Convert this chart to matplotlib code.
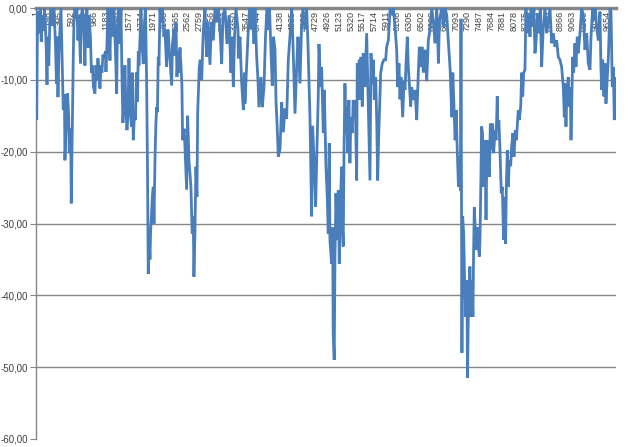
import numpy as np
import matplotlib
matplotlib.use("Agg")
import matplotlib.pyplot as plt
import matplotlib.transforms as mtransforms
from matplotlib.ticker import FuncFormatter

# drawdown series (index, value)
idx = [1, 13, 26, 43, 60, 74, 90, 107, 128, 144, 161, 175, 187, 200, 217, 234, 254, 279, 305, 330,
       347, 361, 372, 389, 406, 423, 440, 462, 482, 490, 519, 535, 553, 563, 587, 597, 621, 631, 642, 659,
       676, 693, 710, 727, 752, 769, 786, 811, 828, 845, 862, 879, 896, 921, 938, 955, 972, 997, 1014, 1031,
       1048, 1082, 1099, 1115, 1132, 1149, 1175, 1183, 1200, 1217, 1234, 1251, 1268, 1293, 1318, 1344, 1364, 1377, 1394, 1420,
       1437, 1453, 1470, 1487, 1504, 1521, 1538, 1555, 1572, 1589, 1614, 1628, 1645, 1665, 1682, 1699, 1716, 1730, 1741, 1758,
       1775, 1792, 1814, 1834, 1851, 1871, 1885, 1898, 1910, 1927, 1938, 1952, 1969, 1983, 1995, 2012, 2028, 2040, 2053, 2067,
       2079, 2096, 2113, 2138, 2163, 2180, 2208, 2231, 2256, 2294, 2307, 2332, 2349, 2366, 2383, 2405, 2417, 2434, 2451, 2467,
       2479, 2506, 2530, 2547, 2564, 2586, 2603, 2619, 2641, 2658, 2670, 2687, 2704, 2721, 2733, 2743, 2760, 2777, 2801, 2828,
       2857, 2885, 2907, 2941, 2966, 2997, 3026, 3059, 3085, 3110, 3139, 3161, 3195, 3228, 3262, 3296, 3313, 3336, 3356, 3381,
       3415, 3420, 3448, 3477, 3505, 3525, 3532, 3561, 3583, 3609, 3634, 3659, 3685, 3702, 3730, 3752, 3769, 3803, 3825, 3854,
       3879, 3905, 3927, 3947, 3972, 3994, 4014, 4040, 4057, 4074, 4096, 4125, 4153, 4180, 4209, 4237, 4265, 4293, 4322, 4344,
       4378, 4406, 4428, 4462, 4487, 4513, 4547, 4575, 4597, 4631, 4659, 4676, 4703, 4727, 4744, 4771, 4783, 4811, 4828, 4856,
       4873, 4884, 4901, 4923, 4940, 4957, 4968, 4997, 5014, 5024, 5041, 5053, 5070, 5092, 5109, 5126, 5149, 5166, 5183, 5193,
       5205, 5222, 5239, 5250, 5267, 5289, 5306, 5323, 5345, 5362, 5379, 5396, 5420, 5430, 5447, 5464, 5476, 5493, 5515, 5531,
       5560, 5589, 5606, 5633, 5645, 5662, 5684, 5701, 5718, 5741, 5758, 5775, 5792, 5814, 5826, 5853, 5882, 5910, 5927, 5955,
       5972, 5984, 6017, 6039, 6068, 6096, 6113, 6135, 6152, 6169, 6198, 6220, 6237, 6254, 6276, 6293, 6310, 6333, 6350, 6378,
       6406, 6435, 6462, 6479, 6508, 6524, 6547, 6576, 6604, 6631, 6660, 6689, 6717, 6745, 6774, 6802, 6819, 6859, 6887, 6914,
       6943, 6971, 7000, 7028, 7045, 7067, 7084, 7101, 7118, 7140, 7157, 7174, 7183, 7199, 7211, 7228, 7245, 7266, 7283, 7293,
       7310, 7334, 7351, 7368, 7385, 7395, 7408, 7425, 7442, 7464, 7481, 7493, 7504, 7521, 7531, 7548, 7565, 7589, 7606, 7623,
       7646, 7662, 7679, 7701, 7718, 7735, 7759, 7776, 7796, 7806, 7823, 7840, 7864, 7881, 7903, 7920, 7937, 7949, 7966, 7983,
       8000, 8022, 8039, 8061, 8078, 8102, 8119, 8151, 8168, 8192, 8209, 8226, 8242, 8264, 8281, 8293, 8310, 8332, 8349, 8366,
       8394, 8416, 8433, 8450, 8479, 8501, 8523, 8546, 8574, 8602, 8631, 8659, 8687, 8715, 8743, 8771, 8800, 8827, 8856, 8884,
       8912, 8929, 8940, 8957, 8974, 8996, 9013, 9030, 9042, 9053, 9070, 9087, 9109, 9126, 9148, 9165, 9194, 9222, 9250, 9278,
       9307, 9334, 9363, 9380, 9408, 9430, 9452, 9476, 9503, 9532, 9548, 9560, 9577, 9599, 9616, 9633, 9650, 9672, 9701, 9718,
       9740, 9757, 9774, 9785, 9802]
dd = [0, -15.6, -2, -0.5, -3.5, 0, -4.7, -1, -3.2, 0, -2.5, -6, -10.7, -4, -8, -2, 0, -2.5, 0, -5,
      -10.5, -4, -12.4, -6, -3, 0, -6, -14.2, -12, -21.2, -14.4, -11.9, -15, -20.2, -16.8, -27.2, -12.8, -6.8, -2, 0,
      -1.5, 0, -4.5, -1, -7.7, -1, 0, -3, -8, -1, 0, -5.5, -1, -4, -9, -8, -11, -11.9, -8, -10,
      -7, -11.2, -8, -9, -6.5, -7, -6, -8.9, -5, 0, -3, -7.3, 0, -4, 0, -6, -11.9, -3, 0, -5,
      0, -9, -16, -12.8, -8, -14, -17, -15, -7, -13.6, -16.5, -9, -18.4, -14.7, -15.6, -9, -13, -6, -8, -4.5,
      0, -5, -7.8, -2, 0, -10.5, -22, -37, -31, -35, -31, -29, -26, -24.9, -30, -21, -16, -13.8, -14.5, -6.8,
      -8, 0, -2, 0, -4, -3, -8.2, -3, -6, -10.8, -5, -3, -6.6, -2, -9.6, -6, -9, -5.5, -8, -10.8,
      -18.4, -16.8, -22, -25.3, -15, -21.2, -23, -24.9, -31.4, -29, -37.4, -31.3, -22.1, -26.3, -14.7, -12.3, -8.2, -7.2, -10, -3.1,
      0, -6.8, -2, -7.9, -2, -4.5, 0, -2, 0, -3, -7.8, -1, 0, -5, -1, -9, -4, -11, -4, 0,
      -3, -7, -4, -10.5, -14.2, -9, -13.3, -8, -4, 0, -3, 0, -5, 0, -6.8, -10, -13.8, -9.6, -13.8, -11,
      -4, 0, -3, 0, -6, -10.8, -4, -5.7, -13, -16, -20.7, -19.6, -13.1, -17.3, -14, -15.4, -7.2, -3.9, 0, -5,
      -14.7, -8.2, -4, -10.5, -3, 0, -3, 0, -5, -15.2, -29, -16.4, -22, -27.7, -21.2, -12.3, -5, -11, -8.2, -17.4,
      -11.4, -15.6, -22, -26.3, -31.4, -18.8, -32.3, -35.6, -30.5, -45.3, -49, -35, -25.8, -32.3, -25.4, -35.6, -26.3, -22.1, -31, -33.2,
      -20.7, -10.5, -17.4, -13.7, -20.2, -12.8, -21.6, -15.2, -17.4, -12.8, -15.2, -12.8, -24, -7.7, -11, -7.2, -12.8, -6.8, -13.7, -6.3,
      -11, -3.5, -9.6, -19.3, -24, -6.3, -10.5, -7.2, -12.8, -9.6, -15.2, -24, -18, -11.9, -9, -7.7, -7.2, -7.2, -5.4, -4.5,
      -2.1, 0, -1, 0, -2.6, -5.8, -11, -7.7, -12.7, -9.6, -15.2, -10.2, -11.4, -7.7, -4, -8.2, -10.5, -13.7, -11, -12.8,
      -11.4, -15.6, -9, -5.4, -8.2, -5.4, -9, -5.8, -10.2, -4.5, -3, 0, -2, -4.9, 0, -7.7, -1.7, 0, -2.6, 0,
      -1, -4.9, -8.6, -15.2, -9, -14.2, -18.4, -14.2, -19.3, -24.9, -20.7, -25.4, -1.5, -48, -29, -31.3, -38.3, -43, -37.9, -51.5,
      -40.7, -36, -43, -37.9, -43, -34.6, -27.7, -30.9, -33.7, -30.5, -33.3, -34.6, -32.3, -23, -16.5, -17.5, -24.9, -18.4, -29.5, -18.4,
      -22, -23.5, -16.1, -19.8, -16.1, -20.2, -17, -18.4, -12.3, -16.5, -15.6, -19.3, -25.8, -24.9, -32.3, -26.3, -32.8, -24.9, -19.8, -24.9,
      -21.2, -22, -19.3, -17.4, -20.7, -17, -18.4, -14.2, -15.6, -13.7, -9, -12.3, -9, -8.6, 0, -3.5, -1.2, -0.7, -4, 0,
      -2.6, 0, -6.3, -4.9, -0.7, -3.5, 0, -8.2, -2.6, 0, -3.5, -1.7, 0, -4.9, -3.5, -5.4, -4.5, -6.8, -7.2, -8.2,
      -11, -15.2, -10.5, -16.5, -11.4, -9.6, -13.7, -11, -18.4, -14.2, -6.8, -9, -4.9, -8.2, -4, -6.3, -3.5, 0, -1, -5.8,
      -3.5, -7.7, -8.6, -4, 0, -1.7, 0, -2.6, -4.5, -0.5, -8.2, -11.4, -7.2, -12.3, -7.7, -13.3, -10.5, -7.2, 0, -0.5,
      -11, -8.2, -15.6, -9.6, -12]

x_ticks = list(range(1, 9655, 197))
y_ticks = [0, -10, -20, -30, -40, -50, -60]

fig = plt.figure(figsize=(6.27, 4.47), dpi=100)
ax = fig.add_axes([0.0574, 0.018, 0.925, 0.964])

grid_col = '#868686'
for v in y_ticks[1:-1]:
    ax.axhline(v, color=grid_col, lw=1.0, zorder=1)

ax.plot(idx, dd, color='#4a7ebb', lw=2.0, zorder=3, solid_joinstyle='miter')

ax.set_xlim(1, 9802)
ax.set_ylim(-60, 0)

for s in ['right', 'bottom']:
    ax.spines[s].set_visible(False)
ax.spines['top'].set_color(grid_col)
ax.spines['top'].set_linewidth(2.5)
ax.spines['top'].set_zorder(2)
ax.spines['left'].set_color(grid_col)
ax.spines['left'].set_linewidth(1.0)

ax.set_xticks([])
ax.set_yticks(y_ticks)
ax.yaxis.set_major_formatter(FuncFormatter(lambda v, p: ('%.2f' % v).replace('.', ',')))
ax.tick_params(axis='y', length=4, color=grid_col, labelsize=7, labelcolor='#404040', pad=2)
for lab in ax.get_yticklabels():
    lab.set_family('Liberation Sans')

# category labels hanging under the zero line
trans = mtransforms.blended_transform_factory(ax.transData, ax.transAxes)
for t in x_ticks:
    ax.text(t, 0.993, str(t), transform=trans, rotation=90, ha='center', va='top',
            fontsize=6.5, color='#404040', family='Liberation Sans', zorder=2)

fig.savefig('out.png', dpi=100)
